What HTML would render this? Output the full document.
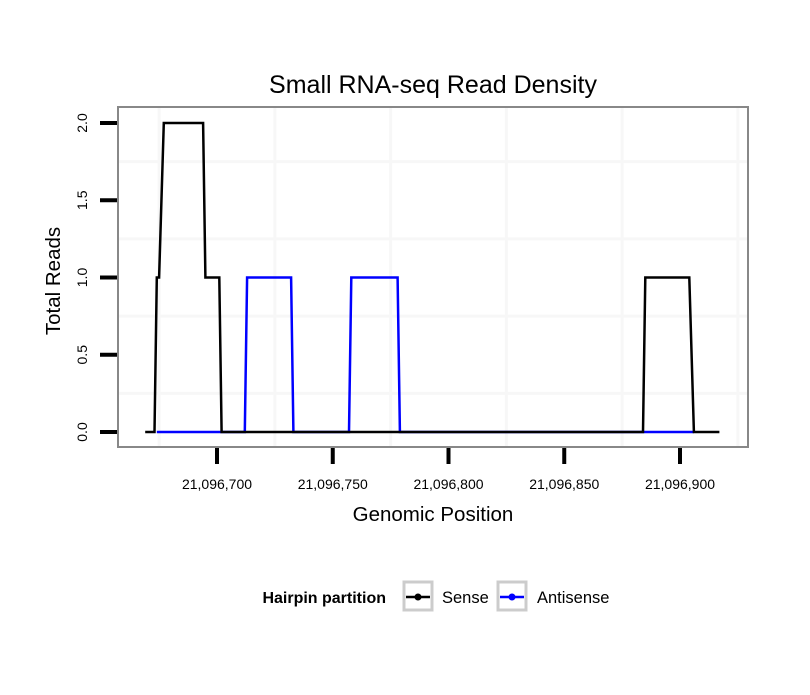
<!DOCTYPE html>
<html><head><meta charset="utf-8"><style>
body{margin:0;background:#fff;font-family:"Liberation Sans",sans-serif}
svg text{font-family:"Liberation Sans",sans-serif}
</style></head><body>
<svg id="c" width="810" height="690" xmlns="http://www.w3.org/2000/svg">
<rect width="810" height="690" fill="#fff"/>
<text x="433" y="93" font-size="25" text-anchor="middle">Small RNA-seq Read Density</text>
<g id="grid"></g>
<g id="series"></g>
<rect x="118" y="107" width="630" height="340" fill="none" stroke="#888" stroke-width="2"/>
<g id="axes"></g>
<text x="433" y="521" font-size="20.5" text-anchor="middle">Genomic Position</text>
<text transform="translate(60,281) rotate(-90)" font-size="20.5" text-anchor="middle">Total Reads</text>
<g>
<text x="386" y="603" font-size="16" font-weight="bold" text-anchor="end">Hairpin partition</text>
<g>
<rect x="404" y="582" width="28" height="28" fill="#fff" stroke="#ccc" stroke-width="3"/>
<line x1="406" y1="597" x2="430" y2="597" stroke="#000" stroke-width="2.5"/>
<circle cx="418" cy="597" r="3.5" fill="#000"/>
<text x="442" y="603" font-size="16.5">Sense</text></g>
<g>
<rect x="498" y="582" width="28" height="28" fill="#fff" stroke="#ccc" stroke-width="3"/>
<line x1="500" y1="597" x2="524" y2="597" stroke="#00f" stroke-width="2.5"/>
<circle cx="512" cy="597" r="3.5" fill="#00f"/>
<text x="537" y="603" font-size="16.5">Antisense</text></g>
</g>
</svg>
<script>
const senseX=[21096669,21096673,21096674,21096675,21096677,21096694,21096695,21096701,21096702,21096884,21096885,21096904,21096906,21096917];
const senseY=[0,0,1,1,2,2,1,1,0,0,1,1,0,0];
const antiX=[21096674,21096712,21096713,21096732,21096733,21096757,21096758,21096778,21096779,21096906];
const antiY=[0,0,1,1,0,0,1,1,0,0];
const xTicks=[21096700,21096750,21096800,21096850,21096900];
const xGrid=[21096675,21096725,21096775,21096825,21096875,21096925];
const yTicks=[0,0.5,1,1.5,2];
const yGrid=[0.25,0.75,1.25,1.75];
const NS="http://www.w3.org/2000/svg";
const xs=v=>217+(v-21096700)*2.315;
const ys=v=>432-v*154.5;
function mk(t,a,p){const e=document.createElementNS(NS,t);for(const k in a)e.setAttribute(k,a[k]);p.appendChild(e);return e;}
const g=document.getElementById('grid'),s=document.getElementById('series'),ax=document.getElementById('axes');
xGrid.forEach(v=>{const l=mk('line',{x1:xs(v),x2:xs(v),y1:108,y2:446,stroke:'#f7f7f7','stroke-width':3},g);

});
yGrid.forEach(v=>{const l=mk('line',{x1:119,x2:747,y1:ys(v),y2:ys(v),stroke:'#f7f7f7','stroke-width':3},g);

});
const path=(X,Y)=>X.map((x,i)=>(i?'L':'M')+xs(x).toFixed(1)+','+ys(Y[i]).toFixed(1)).join('');
const a=mk('path',{d:path(antiX,antiY),fill:'none',stroke:'#00f','stroke-width':2.5},s);


const b=mk('path',{d:path(senseX,senseY),fill:'none',stroke:'#000','stroke-width':2.5},s);


xTicks.forEach(v=>{const l=mk('line',{x1:xs(v),x2:xs(v),y1:448,y2:464,stroke:'#000','stroke-width':4},ax);


const t=mk('text',{x:xs(v),y:489,'font-size':14,'text-anchor':'middle'},ax);
t.textContent=v.toLocaleString('en-US');

});
yTicks.forEach(v=>{const l=mk('line',{x1:100,x2:117,y1:ys(v),y2:ys(v),stroke:'#000','stroke-width':4},ax);


const t=mk('text',{transform:`translate(87,${ys(v)}) rotate(-90)`,'font-size':14,'text-anchor':'middle'},ax);
t.textContent=v.toFixed(1);

});
</script>
</body></html>
